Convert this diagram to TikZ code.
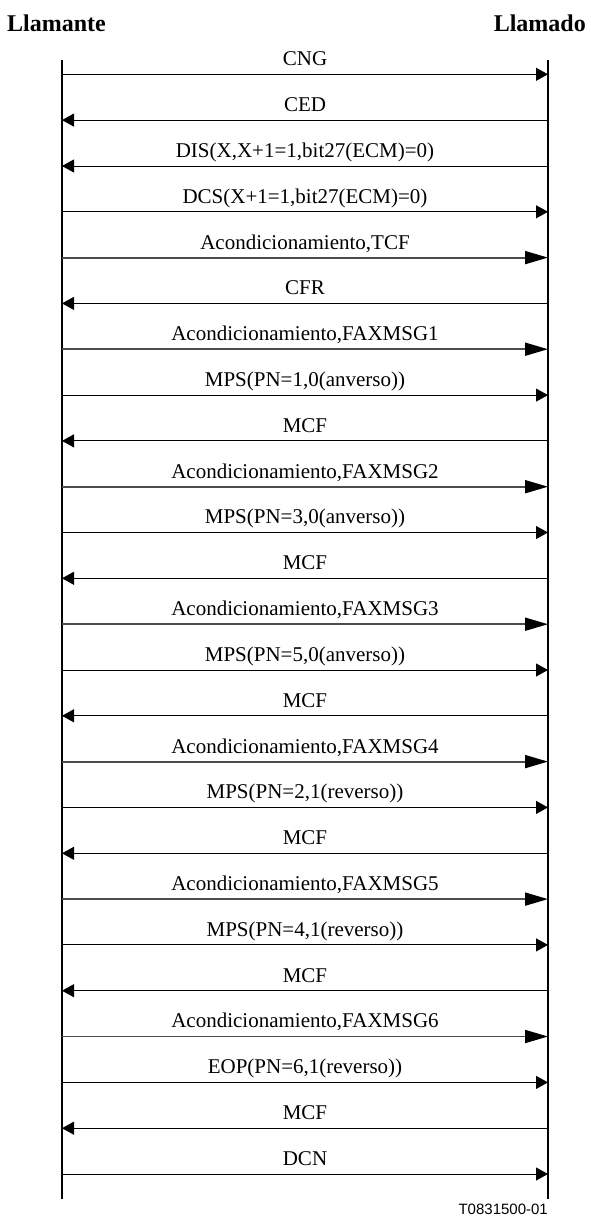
\documentclass[tikz,border=0pt]{standalone}
\usepackage{fontspec}
\setmainfont{Liberation Serif}
\newfontfamily\arialfont{Liberation Sans}
\usepackage{tikz}
\usetikzlibrary{arrows.meta,positioning}
\tikzset{
  lifeline/.style={line width=1.2pt},
  fwd/.style={line width=1pt,-{Triangle[length=12pt,width=13pt]}},
  bwd/.style={line width=1pt,{Triangle[length=12pt,width=13pt]}-},
  train/.style={line width=1.8pt,draw=black!70,-{Triangle[length=23pt,width=13pt,fill=black,color=black]}},
  lbl/.style={midway,anchor=base,yshift=8.6pt,inner sep=0pt,text=black,font=\fontsize{21}{25}\selectfont},
  party/.style={anchor=base,inner sep=0pt,font=\fontsize{24}{28}\selectfont\bfseries}
}
\begin{document}
\begin{tikzpicture}[x=1pt,y=-1pt]
      \useasboundingbox (0,0) rectangle (590,1216);
      % ends of the call
      \node[party,anchor=base west] at (7,31) (llamante) {Llamante};
      \node[party,anchor=base east] at (586,31) (llamado) {Llamado};
      \coordinate (ltop) at (62,60);
      \coordinate (lbot) at (62,1199);
      \coordinate (rtop) at (548,60);
      \coordinate (rbot) at (548,1199);
      \draw[lifeline] (ltop)--(lbot);
      \draw[lifeline] (rtop)--(rbot);
      % messages
      \coordinate (l1) at (62,74.3); \coordinate (r1) at (548,74.3);
      \draw[fwd] (l1) -- node[lbl] {CNG} (r1);
      \coordinate (l2) at (62,120.1); \coordinate (r2) at (548,120.1);
      \draw[bwd] (l2) -- node[lbl] {CED} (r2);
      \coordinate (l3) at (62,166.0); \coordinate (r3) at (548,166.0);
      \draw[bwd] (l3) -- node[lbl] {DIS(X,X+1=1,bit27(ECM)=0)} (r3);
      \coordinate (l4) at (62,211.8); \coordinate (r4) at (548,211.8);
      \draw[fwd] (l4) -- node[lbl] {DCS(X+1=1,bit27(ECM)=0)} (r4);
      \coordinate (l5) at (62,257.6); \coordinate (r5) at (548,257.6);
      \draw[train] (l5) -- node[lbl] {Acondicionamiento,TCF} (r5);
      \coordinate (l6) at (62,303.4); \coordinate (r6) at (548,303.4);
      \draw[bwd] (l6) -- node[lbl] {CFR} (r6);
      \coordinate (l7) at (62,349.2); \coordinate (r7) at (548,349.2);
      \draw[train] (l7) -- node[lbl] {Acondicionamiento,FAXMSG1} (r7);
      \coordinate (l8) at (62,395.1); \coordinate (r8) at (548,395.1);
      \draw[fwd] (l8) -- node[lbl] {MPS(PN=1,0(anverso))} (r8);
      \coordinate (l9) at (62,440.9); \coordinate (r9) at (548,440.9);
      \draw[bwd] (l9) -- node[lbl] {MCF} (r9);
      \coordinate (l10) at (62,486.7); \coordinate (r10) at (548,486.7);
      \draw[train] (l10) -- node[lbl] {Acondicionamiento,FAXMSG2} (r10);
      \coordinate (l11) at (62,532.5); \coordinate (r11) at (548,532.5);
      \draw[fwd] (l11) -- node[lbl] {MPS(PN=3,0(anverso))} (r11);
      \coordinate (l12) at (62,578.3); \coordinate (r12) at (548,578.3);
      \draw[bwd] (l12) -- node[lbl] {MCF} (r12);
      \coordinate (l13) at (62,624.2); \coordinate (r13) at (548,624.2);
      \draw[train] (l13) -- node[lbl] {Acondicionamiento,FAXMSG3} (r13);
      \coordinate (l14) at (62,670.0); \coordinate (r14) at (548,670.0);
      \draw[fwd] (l14) -- node[lbl] {MPS(PN=5,0(anverso))} (r14);
      \coordinate (l15) at (62,715.8); \coordinate (r15) at (548,715.8);
      \draw[bwd] (l15) -- node[lbl] {MCF} (r15);
      \coordinate (l16) at (62,761.6); \coordinate (r16) at (548,761.6);
      \draw[train] (l16) -- node[lbl] {Acondicionamiento,FAXMSG4} (r16);
      \coordinate (l17) at (62,807.4); \coordinate (r17) at (548,807.4);
      \draw[fwd] (l17) -- node[lbl] {MPS(PN=2,1(reverso))} (r17);
      \coordinate (l18) at (62,853.3); \coordinate (r18) at (548,853.3);
      \draw[bwd] (l18) -- node[lbl] {MCF} (r18);
      \coordinate (l19) at (62,899.1); \coordinate (r19) at (548,899.1);
      \draw[train] (l19) -- node[lbl] {Acondicionamiento,FAXMSG5} (r19);
      \coordinate (l20) at (62,944.9); \coordinate (r20) at (548,944.9);
      \draw[fwd] (l20) -- node[lbl] {MPS(PN=4,1(reverso))} (r20);
      \coordinate (l21) at (62,990.7); \coordinate (r21) at (548,990.7);
      \draw[bwd] (l21) -- node[lbl] {MCF} (r21);
      \coordinate (l22) at (62,1036.5); \coordinate (r22) at (548,1036.5);
      \draw[train] (l22) -- node[lbl] {Acondicionamiento,FAXMSG6} (r22);
      \coordinate (l23) at (62,1082.4); \coordinate (r23) at (548,1082.4);
      \draw[fwd] (l23) -- node[lbl] {EOP(PN=6,1(reverso))} (r23);
      \coordinate (l24) at (62,1128.2); \coordinate (r24) at (548,1128.2);
      \draw[bwd] (l24) -- node[lbl] {MCF} (r24);
      \coordinate (l25) at (62,1174.0); \coordinate (r25) at (548,1174.0);
      \draw[fwd] (l25) -- node[lbl] {DCN} (r25);
      % figure number
      \node[anchor=base east,inner sep=0pt,font=\arialfont\fontsize{15}{18}\selectfont] at (548,1214) (fignum) {T0831500-01};
\end{tikzpicture}
\end{document}
